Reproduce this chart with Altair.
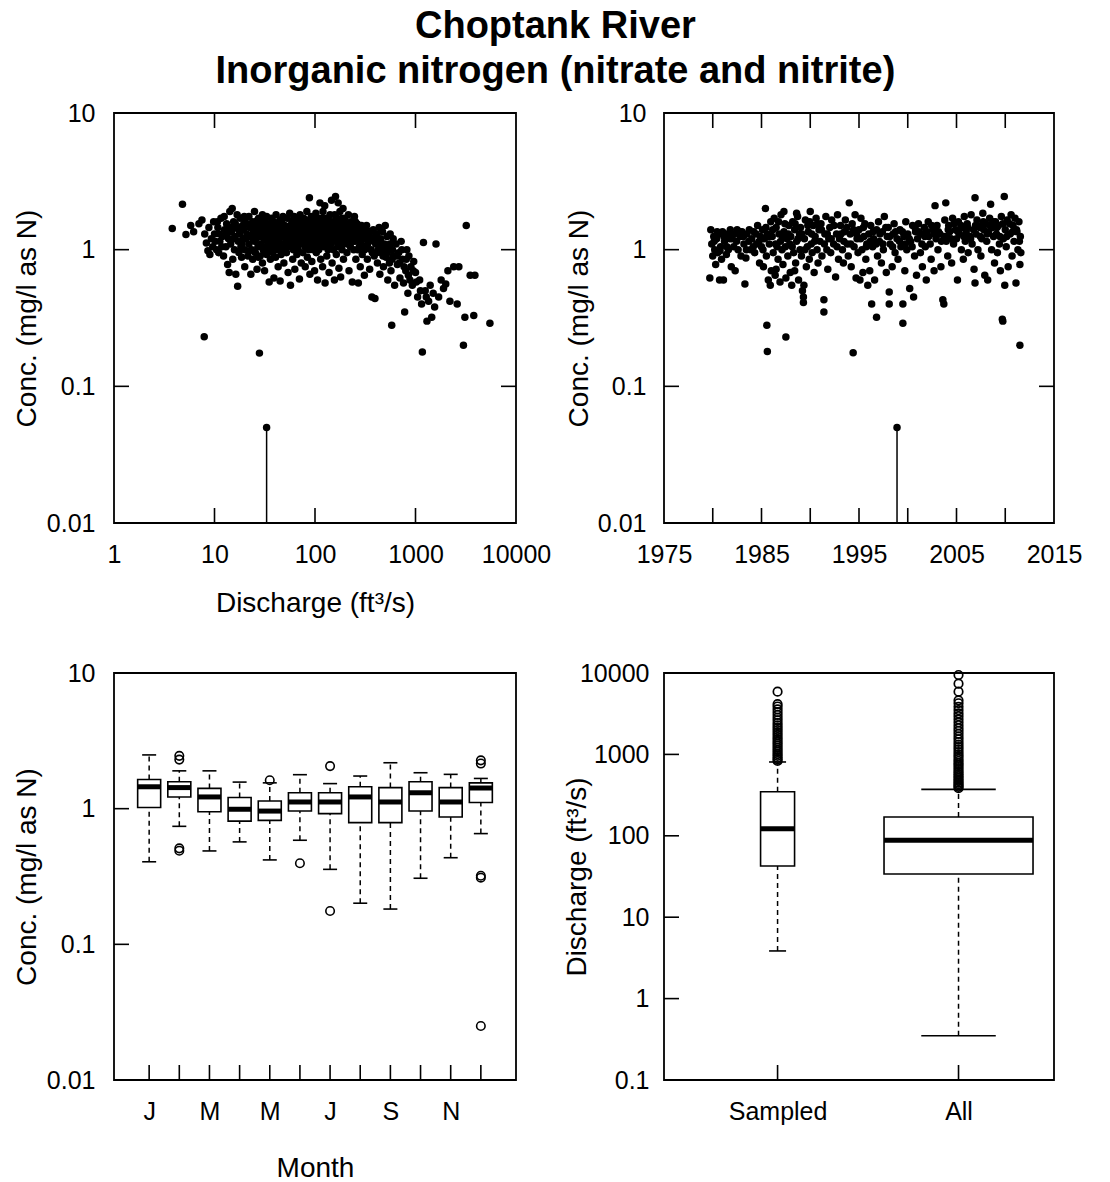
import json
import altair as alt
import pandas as pd

# ---------------- text ----------------
TITLE = ["Choptank River", "Inorganic nitrogen (nitrate and nitrite)"]
CONC_TITLE = "Conc. (mg/l as N)"
FLOW_TITLE = "Discharge (ft³/s)"
MONTH_TITLE = "Month"

conc_ticks = [0.01, 0.1, 1, 10]
conc_inner = [0.1, 1]
flow_ticks = [1, 10, 100, 1000, 10000]
flow_inner = [10, 100, 1000]
year_labels = [1975, 1985, 1995, 2005, 2015]
year_inner = [1980, 1985, 1990, 1995, 2000, 2005, 2010]
month_letters = ["J", "F", "M", "A", "M", "J", "J", "A", "S", "O", "N", "D"]
month_label_at = [1, 3, 5, 7, 9, 11]
months = [1, 2, 3, 4, 5, 6, 7, 8, 9, 10, 11, 12]
q_ticks = [0.1, 1, 10, 100, 1000, 10000]
q_inner = [1, 10, 100, 1000]
group_names = ["Sampled", "All"]

# ---------------- top-left: discharge vs concentration ----------------
flow_conc = [
    (3.8, 1.43), (4.8, 2.15), (5.2, 1.29), (5.8, 1.5), (6.2, 1.35), (7.0, 1.55), (7.5, 1.65), (7.9, 0.231),
    (8.0, 1.3), (8.3, 1.12), (8.6, 0.98), (8.8, 1.45), (9.0, 0.92), (9.3, 1.2), (9.6, 1.05), (9.8, 1.6),
    (10, 1.3), (10.5, 1.0), (10.8, 1.45), (11, 0.95), (11.3, 1.15), (11.6, 1.7), (12, 1.25), (12.3, 0.9),
    (12.6, 1.4), (13, 1.05), (13.2, 1.55), (13.5, 0.78), (13.8, 1.2), (14, 0.68), (14.2, 1.9), (14.5, 1.1),
    (14.8, 1.35), (15, 2.0), (15.2, 0.85), (15.5, 1.6), (15.8, 1.0), (16, 1.25), (16.3, 0.66), (16.5, 1.45),
    (16.8, 1.8), (17, 0.54), (17.2, 1.15), (17.5, 0.95), (17.8, 1.3), (18, 1.7), (18.3, 1.05), (18.6, 0.88),
    (19, 1.5), (19.3, 1.2), (19.6, 1.4), (20, 0.75), (20, 1.0), (20, 1.6),
    (10.2, 1.15), (10.7, 1.6), (11.2, 1.3), (11.8, 1.05), (12.5, 1.75), (13.3, 1.3), (14.3, 1.45), (15.3, 1.2),
    (16.1, 1.55), (17.4, 1.4), (18.8, 1.1), (19.8, 1.75),
    (21, 1.3), (21.5, 0.9), (22, 1.75), (22, 1.1), (22.5, 1.45), (23, 0.66), (23, 1.25), (23.5, 1.0),
    (24, 1.6), (24, 0.85), (24.5, 1.35), (25, 1.15), (25, 1.9), (25.5, 0.95), (26, 1.5), (26, 1.2),
    (26.5, 0.72), (27, 1.05), (27, 1.4), (27.5, 1.7), (28, 0.175), (28, 1.25), (28.5, 0.9), (29, 1.55),
    (29, 1.1), (29.5, 1.35), (30, 0.8), (30, 1.8), (30.5, 1.0), (31, 1.45), (31, 1.2), (31.5, 0.7),
    (32, 1.6), (32, 1.3), (32.5, 1.05), (33, 0.92), (33, 1.75), (33.5, 1.15), (34, 1.4), (34, 1.25),
    (35, 0.58), (35, 1.0), (35.5, 1.55), (36, 1.2), (36, 0.85), (36.5, 1.35), (37, 1.7), (37.5, 1.1),
    (38, 0.95), (38, 1.45), (38.5, 1.25), (39, 0.62), (39, 1.6), (40, 1.05), (40, 1.3), (40.5, 0.88),
    (41, 1.8), (41, 1.15), (42, 1.4), (42, 1.0), (43, 0.75), (43, 1.55), (44, 1.2), (44, 1.35),
    (45, 0.59), (45, 1.65), (46, 1.1), (46, 0.92), (47, 1.45), (47, 1.3), (48, 1.0), (48, 1.75),
    (49, 0.8), (49, 1.25), (50, 1.5), (50, 1.1),
    (20.5, 1.2), (21.2, 1.55), (22.3, 0.98), (23.3, 1.5), (24.3, 1.18), (25.3, 1.3), (26.3, 1.62), (27.3, 0.88),
    (28.3, 1.45), (29.3, 1.7), (30.3, 1.25), (31.3, 0.95), (32.3, 1.4), (33.3, 1.55), (34.5, 1.1), (35.8, 1.45),
    (37.2, 1.3), (38.8, 1.15), (40.2, 1.55), (41.7, 1.25), (43.3, 1.05), (44.8, 1.45), (46.5, 1.6), (48.3, 1.35),
    (49.5, 0.98),
    (52, 1.35), (52, 0.95), (53, 1.7), (54, 1.2), (54, 0.68), (55, 1.45), (56, 1.05), (56, 1.85),
    (57, 0.55), (57, 1.3), (58, 1.15), (59, 1.6), (60, 0.85), (60, 1.4), (61, 1.0), (62, 1.25),
    (62, 1.75), (63, 0.72), (64, 1.5), (64, 1.1), (65, 1.35), (66, 0.92), (67, 1.65), (67, 1.2),
    (68, 1.0), (69, 1.45), (70, 0.61), (70, 1.3), (71, 1.8), (72, 1.1), (73, 0.8), (74, 1.55),
    (74, 1.25), (75, 1.4), (76, 0.95), (77, 1.7), (78, 1.15), (79, 1.35), (80, 0.75), (80, 1.05),
    (81, 1.6), (82, 1.25), (83, 1.9), (84, 0.88), (85, 1.45), (86, 1.2), (87, 1.0), (88, 2.4),
    (88, 1.35), (89, 0.66), (90, 1.55), (91, 1.1), (92, 1.75), (93, 0.82), (94, 1.3), (95, 1.45),
    (96, 1.0), (97, 1.65), (98, 1.2), (99, 0.7), (100, 1.4), (100, 1.1), (102, 1.85), (103, 0.95),
    (104, 1.3), (105, 1.55), (106, 0.6), (107, 1.2), (108, 1.7), (109, 1.0), (110, 1.45), (112, 2.2),
    (113, 1.25), (114, 0.85), (115, 1.6), (116, 1.1), (118, 1.35), (119, 0.75), (120, 1.9), (121, 1.5),
    (122, 1.05), (124, 1.25), (125, 2.1), (126, 0.57), (127, 1.4), (128, 1.15), (130, 1.7), (131, 0.9),
    (132, 1.3), (134, 1.55), (135, 1.0), (137, 1.2), (138, 0.68), (140, 1.45), (141, 1.8), (143, 1.1),
    (145, 1.35), (146, 2.3), (148, 0.8), (150, 1.6), (151, 1.25), (153, 1.0), (155, 1.5), (156, 0.6),
    (158, 1.15), (160, 2.45), (161, 1.4), (163, 0.92), (165, 1.7), (166, 1.2), (168, 1.05), (170, 2.2),
    (171, 1.5), (173, 0.73), (175, 1.3), (177, 1.9), (178, 1.1), (180, 0.63), (182, 1.6), (184, 1.25),
    (186, 1.0), (188, 1.45), (190, 2.0), (192, 0.85), (194, 1.35), (196, 1.15), (198, 1.7), (200, 1.3),
    (51, 1.2), (53, 1.05), (55, 1.3), (57, 1.5), (59, 1.15), (61, 1.6), (63, 1.4), (65, 1.05),
    (67, 1.45), (69, 1.15), (71, 1.35), (73, 1.6), (76, 1.3), (78, 1.5), (81, 1.1), (84, 1.4),
    (86, 1.65), (89, 1.25), (92, 1.5), (95, 1.15), (98, 1.55), (101, 1.3), (104, 1.05), (107, 1.5),
    (111, 1.3), (115, 1.15), (118, 1.7), (122, 1.4), (126, 1.2), (129, 1.55), (133, 1.35), (136, 1.65),
    (139, 1.05), (142, 1.5), (147, 1.2), (152, 1.4), (157, 1.8), (162, 1.3), (167, 1.55), (172, 1.15),
    (176, 1.45), (181, 1.35), (185, 1.7), (189, 1.1), (193, 1.55), (197, 1.25),
    (205, 1.55), (208, 0.95), (212, 1.2), (215, 1.8), (218, 0.7), (222, 1.4), (225, 1.05), (228, 1.6),
    (232, 1.25), (235, 0.58), (240, 1.45), (243, 1.0), (247, 1.75), (250, 1.15), (255, 0.85), (258, 1.35),
    (262, 1.55), (266, 1.0), (270, 0.57), (274, 1.25), (278, 1.45), (282, 0.75), (286, 1.1), (290, 1.5),
    (295, 0.92), (300, 1.3), (305, 1.2), (310, 0.65), (315, 1.4), (320, 1.05), (326, 1.5), (332, 0.85),
    (338, 1.25), (344, 1.15), (350, 0.72), (356, 1.35), (362, 1.0), (368, 0.45), (374, 1.2), (380, 1.4),
    (388, 0.9), (395, 0.44), (402, 1.1), (410, 1.3), (418, 0.8), (426, 1.0), (434, 1.45), (442, 0.66),
    (450, 1.2), (460, 0.95), (470, 1.35), (480, 0.75), (490, 1.1), (500, 1.5), (510, 0.88), (520, 1.25),
    (530, 0.6), (540, 1.05), (550, 0.8), (560, 1.3), (570, 0.7), (580, 0.28), (590, 1.0), (600, 1.2),
    (600, 0.9),
    (202, 1.4), (210, 1.1), (220, 1.3), (230, 1.5), (238, 1.15), (245, 1.3), (252, 1.6), (260, 1.2),
    (268, 1.4), (276, 1.05), (284, 1.3), (293, 1.2), (302, 1.45), (312, 1.0), (322, 1.3), (334, 1.1),
    (346, 1.35), (358, 1.2), (372, 0.95), (385, 1.15), (398, 1.25), (414, 0.95), (430, 1.15), (455, 1.05),
    (475, 0.9), (495, 1.0), (525, 0.95), (555, 1.1), (585, 0.85),
    (620, 0.55), (640, 1.1), (660, 0.78), (680, 0.95), (700, 0.62), (720, 1.15), (740, 0.85), (760, 0.57),
    (780, 0.35), (800, 0.7), (820, 1.0), (840, 0.48), (860, 0.9), (880, 0.6), (900, 0.75), (930, 0.55),
    (960, 0.82), (1000, 0.68), (1050, 0.45), (1100, 0.6), (1150, 0.4), (1170, 0.178), (1200, 1.13),
    (1250, 0.5), (1300, 0.3), (1350, 0.42), (1400, 0.55), (1450, 0.32), (1500, 0.48), (1550, 0.38),
    (1600, 1.1), (1700, 0.45), (1800, 0.6), (1900, 0.52), (2000, 0.56),
    (650, 0.9), (690, 0.8), (730, 1.0), (770, 0.75), (810, 0.85), (850, 0.65), (950, 0.7), (1020, 0.58),
    (1120, 0.5), (1280, 0.45),
    (2100, 0.7), (2200, 0.42), (2400, 0.75), (2600, 0.4), (2700, 0.75), (3000, 0.2), (3100, 0.32),
    (3200, 1.5), (3500, 0.65), (3800, 0.33), (3900, 0.65), (5500, 0.29),
]
censored_flow = [33]
censored_conc = [0.05]

# ---------------- top-right: time vs concentration ----------------
year_conc = [
    (1979.7, 0.62), (1979.8, 1.4), (1979.9, 1.1), (1980.0, 0.9), (1980.1, 1.25), (1980.2, 1.0), (1980.3, 0.78),
    (1980.4, 1.2), (1980.5, 0.95), (1980.6, 1.3), (1980.7, 0.6), (1980.8, 1.05), (1980.9, 0.85),
    (1981.0, 1.35), (1981.1, 0.6), (1981.2, 1.15), (1981.4, 0.92), (1981.5, 1.3), (1981.6, 1.0), (1981.8, 1.4), (1981.9, 0.75),
    (1982.0, 1.2), (1982.2, 1.3), (1982.3, 0.7), (1982.5, 1.4), (1982.6, 1.0), (1982.8, 1.25), (1982.9, 0.9),
    (1983.0, 1.35), (1983.2, 1.1), (1983.3, 0.56), (1983.4, 0.87), (1983.5, 1.3), (1983.7, 1.15), (1983.9, 1.0),
    (1984.0, 1.2), (1984.2, 1.35), (1984.3, 0.95), (1984.5, 1.1), (1984.6, 1.5), (1984.8, 0.8), (1984.9, 1.25),
    (1985.0, 1.05), (1985.1, 1.4), (1985.2, 0.75), (1985.3, 1.2), (1985.4, 2.0), (1985.5, 0.9), (1985.55, 0.28),
    (1985.6, 0.18), (1985.6, 1.3), (1985.7, 0.6), (1985.8, 1.1), (1985.9, 0.55), (1985.95, 1.6),
    (1986.0, 0.7), (1986.1, 1.25), (1986.2, 0.95), (1986.3, 1.7), (1986.4, 0.65), (1986.5, 1.45), (1986.6, 1.05),
    (1986.7, 0.85), (1986.8, 1.3), (1986.9, 0.58), (1986.95, 1.15), (1986.5, 0.72),
    (1987.0, 1.8), (1987.1, 1.0), (1987.2, 0.78), (1987.3, 1.35), (1987.4, 1.55), (1987.5, 0.23), (1987.5, 0.62),
    (1987.6, 1.2), (1987.7, 0.9), (1987.8, 1.5), (1987.9, 1.1), (1987.95, 0.68), (1987.3, 1.9),
    (1988.0, 1.25), (1988.1, 0.55), (1988.2, 1.6), (1988.3, 0.95), (1988.4, 1.4), (1988.5, 0.8), (1988.6, 1.15),
    (1988.7, 1.75), (1988.8, 0.6), (1988.9, 1.3), (1988.95, 1.0), (1988.4, 0.7), (1988.6, 1.85),
    (1989.0, 1.45), (1989.1, 0.9), (1989.2, 0.5), (1989.3, 0.45), (1989.3, 0.41), (1989.35, 0.55), (1989.4, 1.2),
    (1989.5, 1.65), (1989.6, 0.75), (1989.7, 1.05), (1989.8, 1.35), (1989.9, 0.85), (1989.95, 1.6),
    (1990.0, 1.9), (1990.1, 1.1), (1990.2, 0.95), (1990.3, 1.5), (1990.4, 0.68), (1990.5, 1.25), (1990.6, 1.7),
    (1990.7, 1.0), (1990.8, 0.8), (1990.9, 1.4),
    (1991.0, 1.15), (1991.1, 1.55), (1991.2, 0.9), (1991.4, 0.43), (1991.4, 0.35), (1991.5, 1.3), (1991.6, 1.75),
    (1991.7, 1.0), (1991.8, 0.72), (1991.9, 1.2),
    (1992.0, 1.45), (1992.1, 0.95), (1992.2, 1.65), (1992.4, 1.1), (1992.6, 0.63), (1992.7, 1.3), (1992.8, 1.8), (1992.9, 0.85),
    (1993.0, 1.2), (1993.1, 1.5), (1993.3, 1.0), (1993.4, 0.8), (1993.5, 1.35), (1993.6, 1.65), (1993.8, 1.1), (1993.9, 0.9),
    (1994.0, 2.2), (1994.1, 1.3), (1994.2, 0.75), (1994.3, 1.55), (1994.4, 0.176), (1994.5, 1.05), (1994.6, 1.8),
    (1994.7, 0.62), (1994.8, 1.2), (1994.9, 0.95),
    (1995.0, 1.4), (1995.1, 0.6), (1995.2, 1.7), (1995.3, 1.0), (1995.4, 0.68), (1995.5, 1.25), (1995.6, 1.55),
    (1995.7, 0.85), (1995.8, 1.1), (1995.9, 0.55),
    (1996.0, 1.3), (1996.1, 0.7), (1996.2, 1.5), (1996.3, 0.4), (1996.4, 1.05), (1996.5, 1.2), (1996.6, 0.6),
    (1996.8, 0.32), (1996.8, 1.4), (1996.9, 0.9),
    (1997.0, 1.6), (1997.1, 1.15), (1997.3, 0.8), (1997.4, 1.35), (1997.5, 1.0), (1997.6, 1.75), (1997.8, 0.68), (1997.9, 1.25),
    (1998.0, 1.45), (1998.1, 0.49), (1998.1, 0.4), (1998.2, 1.1), (1998.4, 0.75), (1998.5, 1.3), (1998.6, 1.55),
    (1998.7, 0.95), (1998.9, 1.2),
    (1999.0, 0.85), (1999.2, 1.4), (1999.3, 1.05), (1999.5, 0.4), (1999.5, 0.29), (1999.6, 1.25), (1999.7, 0.7),
    (1999.8, 1.6), (1999.9, 1.0),
    (2000.0, 1.3), (2000.2, 0.52), (2000.3, 1.15), (2000.5, 1.5), (2000.6, 0.45), (2000.7, 0.9), (2000.8, 1.35), (2000.9, 0.65),
    (2001.0, 1.2), (2001.1, 1.55), (2001.3, 0.95), (2001.4, 1.3), (2001.5, 0.75), (2001.7, 1.45), (2001.8, 1.05), (2001.9, 0.6),
    (2002.0, 1.35), (2002.1, 1.6), (2002.3, 1.1), (2002.4, 0.85), (2002.6, 1.4), (2002.8, 2.1), (2002.9, 1.2), (2002.7, 0.7),
    (2003.0, 1.5), (2003.1, 1.0), (2003.3, 1.3), (2003.4, 0.75), (2003.6, 0.43), (2003.7, 0.4), (2003.8, 1.65),
    (2003.9, 2.2), (2003.95, 1.15),
    (2004.0, 1.25), (2004.1, 0.9), (2004.2, 1.5), (2004.3, 1.35), (2004.5, 0.8), (2004.6, 1.7), (2004.7, 1.1), (2004.9, 1.4),
    (2005.0, 1.2), (2005.1, 0.6), (2005.2, 1.6), (2005.3, 1.3), (2005.5, 1.0), (2005.6, 1.45), (2005.7, 0.85),
    (2005.8, 1.75), (2005.9, 1.15),
    (2006.0, 1.35), (2006.1, 1.55), (2006.2, 0.95), (2006.4, 1.25), (2006.5, 1.8), (2006.6, 1.1), (2006.8, 0.72),
    (2006.9, 0.57), (2006.9, 2.4), (2006.95, 1.5),
    (2007.0, 1.3), (2007.1, 1.65), (2007.2, 1.0), (2007.4, 1.45), (2007.5, 0.9), (2007.6, 1.2), (2007.7, 1.85),
    (2007.8, 1.4), (2007.9, 0.65),
    (2008.0, 1.55), (2008.1, 1.15), (2008.2, 0.6), (2008.3, 1.35), (2008.4, 1.7), (2008.5, 2.15), (2008.6, 1.0),
    (2008.7, 1.45), (2008.8, 1.25), (2008.9, 0.8),
    (2009.0, 1.6), (2009.1, 1.3), (2009.2, 0.95), (2009.3, 1.5), (2009.4, 1.1), (2009.5, 0.7), (2009.6, 1.75),
    (2009.7, 0.31), (2009.75, 0.3), (2009.8, 1.2), (2009.9, 2.45), (2009.95, 0.55),
    (2010.0, 1.4), (2010.1, 1.05), (2010.2, 1.65), (2010.3, 0.75), (2010.5, 1.3), (2010.6, 1.8), (2010.7, 0.9),
    (2010.8, 1.5), (2010.9, 1.15),
    (2011.0, 1.7), (2011.1, 0.57), (2011.2, 1.35), (2011.3, 1.0), (2011.4, 1.6), (2011.5, 0.78), (2011.5, 0.2),
    (2011.55, 1.25), (2011.6, 0.95),
    (1980.15, 1.15), (1980.45, 1.35), (1980.75, 0.98), (1981.15, 1.25), (1981.45, 1.05), (1981.75, 1.2),
    (1982.15, 1.05), (1982.45, 1.15), (1982.75, 1.35), (1983.15, 1.25), (1983.45, 1.0), (1983.75, 1.4),
    (1984.15, 1.05), (1984.45, 1.3), (1984.75, 1.15), (1985.15, 1.0), (1985.45, 1.45), (1985.75, 1.25),
    (1986.15, 1.4), (1986.45, 1.1), (1986.75, 1.6), (1987.15, 1.25), (1987.45, 1.05), (1987.75, 1.3),
    (1988.15, 1.05), (1988.45, 1.55), (1988.75, 1.2), (1989.15, 1.3), (1989.45, 1.0), (1989.75, 1.5),
    (1990.15, 1.3), (1990.45, 1.15), (1990.75, 1.55), (1991.15, 1.4), (1991.45, 1.1), (1991.75, 1.3),
    (1992.15, 1.2), (1992.45, 1.5), (1992.75, 1.05), (1993.15, 1.3), (1993.45, 1.15), (1993.75, 1.45),
    (1994.15, 1.1), (1994.45, 1.4), (1994.75, 1.3), (1995.15, 1.2), (1995.45, 1.45), (1995.75, 1.05),
    (1996.15, 1.15), (1996.45, 1.35), (1996.75, 1.1), (1997.15, 1.3), (1997.45, 1.1), (1997.75, 1.45),
    (1998.15, 1.25), (1998.45, 1.05), (1998.75, 1.35), (1999.15, 1.15), (1999.45, 1.35), (1999.75, 1.1),
    (2000.15, 1.2), (2000.45, 1.05), (2000.75, 1.45), (2001.15, 1.35), (2001.45, 1.1), (2001.75, 1.25),
    (2002.15, 1.25), (2002.45, 1.5), (2002.75, 1.3), (2003.15, 1.35), (2003.45, 1.15), (2003.75, 1.25),
    (2004.15, 1.4), (2004.45, 1.2), (2004.75, 1.55), (2005.15, 1.35), (2005.45, 1.5), (2005.75, 1.25),
    (2006.15, 1.45), (2006.45, 1.2), (2006.75, 1.4), (2007.15, 1.5), (2007.45, 1.25), (2007.75, 1.6),
    (2008.15, 1.3), (2008.45, 1.5), (2008.75, 1.6), (2009.15, 1.45), (2009.45, 1.25), (2009.75, 1.55),
    (2010.15, 1.25), (2010.45, 1.55), (2010.75, 1.35), (2011.15, 1.4), (2011.45, 1.15),
]
censored_year = [1998.9]

# ---------------- bottom-left: monthly boxplots ----------------
box_lo = [0.406, 0.741, 0.488, 0.569, 0.419, 0.585, 0.357, 0.201, 0.182, 0.307, 0.435, 0.655]
box_q1 = [1.02, 1.22, 0.95, 0.81, 0.82, 0.96, 0.92, 0.789, 0.789, 0.96, 0.869, 1.11]
box_med = [1.45, 1.43, 1.22, 0.99, 0.96, 1.12, 1.12, 1.22, 1.12, 1.31, 1.12, 1.42]
box_q3 = [1.64, 1.58, 1.41, 1.21, 1.14, 1.31, 1.31, 1.45, 1.43, 1.58, 1.43, 1.55]
box_hi = [2.49, 1.90, 1.90, 1.57, 1.55, 1.78, 1.53, 1.74, 2.18, 1.84, 1.79, 1.67]
out_month = [2, 2, 2, 2, 5, 6, 7, 7, 12, 12, 12, 12, 12]
out_conc = [2.45, 2.3, 0.51, 0.49, 1.62, 0.396, 2.06, 0.176, 2.27, 2.15, 0.32, 0.31, 0.025]

# ---------------- bottom-right: discharge boxplots ----------------
dq_lo = [3.85, 0.35]
dq_q1 = [42.6, 34]
dq_med = [122, 88]
dq_q3 = [348, 170]
dq_hi = [807, 372]
sampled_out = [830, 870, 910, 960, 1010, 1070, 1130, 1200, 1280, 1360, 1440, 1530, 1630, 1740, 1860,
               1990, 2120, 2270, 2430, 2620, 2820, 3050, 3300, 3580, 3880, 4150, 5900]
all_out = [385, 400, 415, 432, 450, 470, 490, 515, 540, 565, 595, 625, 660, 700, 740, 780, 830, 880,
           940, 1000, 1070, 1150, 1230, 1320, 1420, 1530, 1650, 1790, 1940, 2100, 2280, 2480, 2700,
           2950, 3200, 3500, 3850, 4250, 4620, 5890, 7400, 9450]

# ---------------- build ----------------
FONT = "Liberation Sans"
WA, WB = 402, 390
H1, H2 = 410, 407
TL = 15
K = "black"
DOT = 56
RING = 72


def ax(title, values, **kw):
    base = dict(values=values, labelFontSize=25, titleFontSize=28, labelFlush=False, labelOverlap=False,
                ticks=False, tickSize=0, domain=False, grid=False, titleFontWeight="normal")
    base.update(kw)
    return alt.Axis(title=title, **base)


def xticks(vals, scale, axis, H, top=True):
    d = pd.DataFrame({"v": vals})
    base = alt.Chart(d).mark_rule(color=K, strokeWidth=1.6)
    out = [base.encode(x=alt.X("v:Q", scale=scale, axis=axis), y=alt.value(H), y2=alt.value(H - TL))]
    if top:
        out.append(base.encode(x=alt.X("v:Q", scale=scale, axis=axis), y=alt.value(0), y2=alt.value(TL)))
    return out


def yticks(vals, scale, axis, W, right=True):
    d = pd.DataFrame({"v": vals})
    base = alt.Chart(d).mark_rule(color=K, strokeWidth=1.6)
    out = [base.encode(y=alt.Y("v:Q", scale=scale, axis=axis), x=alt.value(0), x2=alt.value(TL))]
    if right:
        out.append(base.encode(y=alt.Y("v:Q", scale=scale, axis=axis), x=alt.value(W - TL), x2=alt.value(W)))
    return out


conc_scale = alt.Scale(type="log", domain=[0.01, 10], nice=False)
flow_scale = alt.Scale(type="log", domain=[1, 10000], nice=False)
year_scale = alt.Scale(domain=[1975, 2015], nice=False, zero=False)
month_scale = alt.Scale(domain=[0, 13], nice=False, zero=False)
grp_scale = alt.Scale(domain=[0.4, 2.5], nice=False, zero=False)
q_scale = alt.Scale(type="log", domain=[0.1, 10000], nice=False)

# axes (shared by every layer of a panel)
xa_A = ax(FLOW_TITLE, flow_ticks, format="d", labelPadding=19, minExtent=44, maxExtent=44, titlePadding=22)
ya_A = ax(CONC_TITLE, conc_ticks, format="~g", labelPadding=19, minExtent=60, maxExtent=60, titlePadding=13)
xa_B = ax(None, year_labels, format="d", labelPadding=19, minExtent=44, maxExtent=44)
ya_B = ax(CONC_TITLE, conc_ticks, format="~g", labelPadding=18, minExtent=60, maxExtent=60, titlePadding=11)
month_expr = json.dumps(month_letters) + "[datum.value - 1]"
xa_C = ax(MONTH_TITLE, month_label_at, labelExpr=month_expr, labelPadding=19, minExtent=44, maxExtent=44,
          titlePadding=30)
ya_C = ax(CONC_TITLE, conc_ticks, format="~g", labelPadding=19, minExtent=60, maxExtent=60, titlePadding=13)
grp_expr = json.dumps(group_names) + "[datum.value - 1]"
xa_D = ax(None, [1, 2], labelExpr=grp_expr, labelPadding=19, minExtent=44, maxExtent=44)
ya_D = ax(FLOW_TITLE, q_ticks, format="~g", labelPadding=15, minExtent=60, maxExtent=60, titlePadding=13)

# Panel A
dfA = pd.DataFrame(flow_conc, columns=["Q", "C"])
xA = alt.X("Q:Q", scale=flow_scale, axis=xa_A)
yA = alt.Y("C:Q", scale=conc_scale, axis=ya_A)
A_pts = alt.Chart(dfA).mark_circle(size=DOT, color=K, opacity=1).encode(x=xA, y=yA)
dfAc = pd.DataFrame({"Q": censored_flow, "C": censored_conc})
A_cl = alt.Chart(dfAc).mark_rule(color=K, strokeWidth=1.5).encode(x=xA, y=yA, y2=alt.value(H1))
A_cp = alt.Chart(dfAc).mark_circle(size=DOT, color=K, opacity=1).encode(x=xA, y=yA)
A = alt.layer(A_pts, A_cl, A_cp, *xticks(flow_inner, flow_scale, xa_A, H1),
              *yticks(conc_inner, conc_scale, ya_A, WA)).properties(width=WA, height=H1)

# Panel B
dfB = pd.DataFrame(year_conc, columns=["Y", "C"])
xB = alt.X("Y:Q", scale=year_scale, axis=xa_B)
yB = alt.Y("C:Q", scale=conc_scale, axis=ya_B)
B_pts = alt.Chart(dfB).mark_circle(size=DOT, color=K, opacity=1).encode(x=xB, y=yB)
dfBc = pd.DataFrame({"Y": censored_year, "C": censored_conc})
B_cl = alt.Chart(dfBc).mark_rule(color=K, strokeWidth=1.5).encode(x=xB, y=yB, y2=alt.value(H1))
B_cp = alt.Chart(dfBc).mark_circle(size=DOT, color=K, opacity=1).encode(x=xB, y=yB)
B = alt.layer(B_pts, B_cl, B_cp, *xticks(year_inner, year_scale, xa_B, H1),
              *yticks(conc_inner, conc_scale, ya_B, WB)).properties(width=WB, height=H1)

# Panel C
dfC = pd.DataFrame({"m": months, "lo": box_lo, "q1": box_q1, "med": box_med, "q3": box_q3, "hi": box_hi})
dfCo = pd.DataFrame({"m": out_month, "v": out_conc})
cb = alt.Chart(dfC)
xm = alt.X("m:Q", scale=month_scale, axis=xa_C)


def yc(field):
    return alt.Y(field, scale=conc_scale, axis=ya_C)


C_wu = cb.mark_rule(color=K, strokeWidth=1.5, strokeDash=[5, 4]).encode(x=xm, y=yc("q3:Q"), y2="hi:Q")
C_wl = cb.mark_rule(color=K, strokeWidth=1.5, strokeDash=[5, 4]).encode(x=xm, y=yc("lo:Q"), y2="q1:Q")
C_cu = cb.mark_tick(orient="horizontal", size=14, thickness=1.6, color=K, opacity=1).encode(x=xm, y=yc("hi:Q"))
C_cl = cb.mark_tick(orient="horizontal", size=14, thickness=1.6, color=K, opacity=1).encode(x=xm, y=yc("lo:Q"))
C_box = cb.mark_bar(size=23, fill="white", stroke=K, strokeWidth=1.6, opacity=1).encode(
    x=xm, y=yc("q1:Q"), y2="q3:Q")
C_med = cb.mark_tick(orient="horizontal", size=23, thickness=5, color=K, opacity=1).encode(x=xm, y=yc("med:Q"))
C_out = alt.Chart(dfCo).mark_point(shape="circle", filled=False, size=RING, strokeWidth=1.6, color=K,
                                   opacity=1).encode(x=xm, y=yc("v:Q"))
C = alt.layer(C_wu, C_wl, C_cu, C_cl, C_box, C_med, C_out,
              *xticks(months, month_scale, xa_C, H2, top=False),
              *yticks(conc_inner, conc_scale, ya_C, WA, right=False)).properties(width=WA, height=H2)

# Panel D
dfD = pd.DataFrame({"g": [1, 2], "lo": dq_lo, "q1": dq_q1, "med": dq_med, "q3": dq_q3, "hi": dq_hi})
dfDo = pd.DataFrame({"g": [1] * len(sampled_out) + [2] * len(all_out), "v": sampled_out + all_out})
db = alt.Chart(dfD)
xg = alt.X("g:Q", scale=grp_scale, axis=xa_D)


def yq(field):
    return alt.Y(field, scale=q_scale, axis=ya_D)


D_layers = [
    db.mark_rule(color=K, strokeWidth=1.5, strokeDash=[5, 4]).encode(x=xg, y=yq("q3:Q"), y2="hi:Q"),
    db.mark_rule(color=K, strokeWidth=1.5, strokeDash=[5, 4]).encode(x=xg, y=yq("lo:Q"), y2="q1:Q"),
]
for gi, bw in ((1, 34), (2, 149)):
    sub = db.transform_filter(f"datum.g == {gi}")
    D_layers.append(sub.mark_tick(orient="horizontal", size=bw / 2, thickness=1.6, color=K, opacity=1).encode(
        x=xg, y=yq("hi:Q")))
    D_layers.append(sub.mark_tick(orient="horizontal", size=bw / 2, thickness=1.6, color=K, opacity=1).encode(
        x=xg, y=yq("lo:Q")))
    D_layers.append(sub.mark_bar(size=bw, fill="white", stroke=K, strokeWidth=1.6, opacity=1).encode(
        x=xg, y=yq("q1:Q"), y2="q3:Q"))
    D_layers.append(sub.mark_tick(orient="horizontal", size=bw, thickness=5, color=K, opacity=1).encode(
        x=xg, y=yq("med:Q")))
D_out = alt.Chart(dfDo).mark_point(shape="circle", filled=False, size=RING, strokeWidth=1.7, color=K,
                                   opacity=1).encode(x=xg, y=yq("v:Q"))
D = alt.layer(*D_layers, D_out, *xticks([1, 2], grp_scale, xa_D, H2, top=False),
              *yticks(q_inner, q_scale, ya_D, WB, right=False)).properties(width=WB, height=H2)

chart = alt.concat(A, B, C, D, columns=2, spacing=alt.RowColnumber(row=150, column=148), bounds="flush").properties(
    title=alt.TitleParams(text=TITLE, fontSize=38, font=FONT, fontWeight="bold", anchor="middle",
                          lineHeight=45, offset=9, dx=8, color=K),
    padding={"left": 4, "top": 0, "right": 0, "bottom": 0},
    background="white",
).configure_view(stroke=K, strokeWidth=1.8).configure_axis(
    labelFont=FONT, titleFont=FONT, labelColor=K, titleColor=K
)

chart.save("out.html", embed_options={"renderer": "svg", "actions": False})
